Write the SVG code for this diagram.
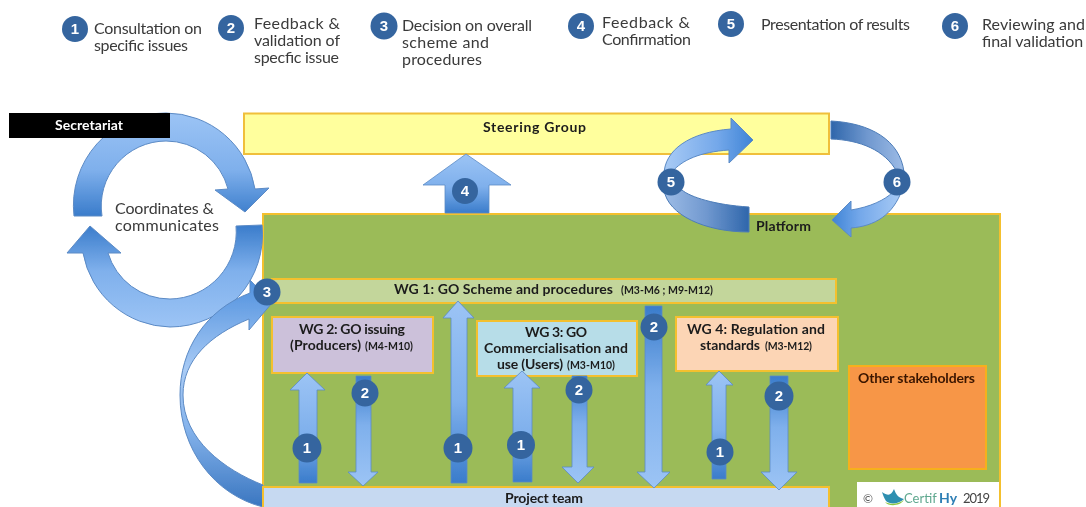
<svg xmlns="http://www.w3.org/2000/svg" width="1086" height="507" viewBox="0 0 1086 507">
<style>
text{font-family:"Lato","Liberation Sans",sans-serif;fill:#1c1c1c}
.lg{font-size:16px;fill:#3a3a3a}
.b{font-weight:700;font-size:14px}
.s{font-weight:700;font-size:10.500px}
.n{font-weight:700;font-size:15px;fill:#fff;text-anchor:middle;font-family:"Liberation Sans",sans-serif}
.c{fill:#34659f}
.box{stroke-width:2}
.au{fill:url(#up);stroke:#5b8ac5;stroke-width:.8}
.ad{fill:url(#dn);stroke:#5b8ac5;stroke-width:.8}
</style>
<defs>
<filter id="soft" x="-2%" y="-2%" width="104%" height="104%"><feGaussianBlur stdDeviation="0.45"/></filter>
<linearGradient id="up" x1="0" y1="0" x2="0" y2="1"><stop offset="0" stop-color="#9cc4f5"/><stop offset=".55" stop-color="#7fb0ec"/><stop offset="1" stop-color="#3a7ccb"/></linearGradient>
<linearGradient id="dn" x1="0" y1="1" x2="0" y2="0"><stop offset="0" stop-color="#9cc4f5"/><stop offset=".55" stop-color="#7fb0ec"/><stop offset="1" stop-color="#3a7ccb"/></linearGradient>
<linearGradient id="lr" x1="0" y1="0" x2="1" y2="0"><stop offset="0" stop-color="#a9cbf5"/><stop offset=".6" stop-color="#74a8ea"/><stop offset="1" stop-color="#3f84d6"/></linearGradient>
<linearGradient id="rl" x1="1" y1="0" x2="0" y2="0"><stop offset="0" stop-color="#a9cbf5"/><stop offset=".6" stop-color="#74a8ea"/><stop offset="1" stop-color="#3f84d6"/></linearGradient>
<linearGradient id="dk" x1="0" y1="0" x2="1" y2="0"><stop offset="0" stop-color="#9dbce6"/><stop offset=".5" stop-color="#7098cf"/><stop offset="1" stop-color="#2f66ab"/></linearGradient>
<linearGradient id="dk2" x1="1" y1="0" x2="0" y2="0"><stop offset="0" stop-color="#9dbce6"/><stop offset=".5" stop-color="#7098cf"/><stop offset="1" stop-color="#2f66ab"/></linearGradient>
<linearGradient id="three" x1="0" y1="1" x2="0" y2="0"><stop offset="0" stop-color="#3a76c0"/><stop offset=".35" stop-color="#86b4ec"/><stop offset=".6" stop-color="#a9cbf5"/><stop offset="1" stop-color="#4f90de"/></linearGradient>
</defs>
<g filter="url(#soft)">
<rect width="1086" height="507" fill="#fff"/>

<g id="legend">
<circle class="c" cx="75" cy="29" r="13"/><text class="n" x="75" y="34">1</text>
<text class="lg" x="94" y="34" textLength="108">Consultation on</text>
<text class="lg" x="94" y="51" textLength="94">specific issues</text>
<circle class="c" cx="231" cy="28" r="13"/><text class="n" x="231" y="33">2</text>
<text class="lg" x="254" y="29" textLength="86">Feedback &amp;</text>
<text class="lg" x="254" y="46" textLength="86">validation of</text>
<text class="lg" x="254" y="63" textLength="85">specfic issue</text>
<circle class="c" cx="384" cy="26" r="13.500"/><text class="n" x="384" y="31">3</text>
<text class="lg" x="402" y="31" textLength="130">Decision on overall</text>
<text class="lg" x="402" y="48" textLength="87">scheme and</text>
<text class="lg" x="402" y="65" textLength="80">procedures</text>
<circle class="c" cx="581" cy="26" r="13"/><text class="n" x="581" y="31">4</text>
<text class="lg" x="602" y="28" textLength="88">Feedback  &amp;</text>
<text class="lg" x="602" y="45" textLength="89">Confirmation</text>
<circle class="c" cx="731" cy="24" r="13"/><text class="n" x="731" y="29">5</text>
<text class="lg" x="761" y="30" textLength="149">Presentation of results</text>
<circle class="c" cx="955" cy="26" r="13"/><text class="n" x="955" y="31">6</text>
<text class="lg" x="982" y="30" textLength="103">Reviewing and</text>
<text class="lg" x="982" y="47" textLength="101">final validation</text>
</g>

<g id="steering"><rect class="box" x="244" y="113.500" width="585" height="40.500" fill="#ffff9d" stroke="#f0bf3a"/><text class="b" x="483" y="132" textLength="103">Steering Group</text></g>
<g id="platform"><rect class="box" x="263" y="214" width="737" height="300" fill="#9bbb59" stroke="#f4c02e"/><text class="b" x="756" y="231" textLength="55">Platform</text></g>

<g id="connectors">
<path d="M74,216A92.500,92.500 0 0 1 166,113A90.500,90.500 0 0 1 255,189L269,188L245,212L215,190L228,189A64,64 0 0 0 166,141A65,65 0 0 0 102,216Z" fill="url(#up)" stroke="#5b8ac5"/>
<path d="M262,225A92.500,92.500 0 0 1 170,327A90,90 0 0 1 83,253L67,253L90,226L121,253L108,253A64.500,64.500 0 0 0 170,299A67,67 0 0 0 236,226Z" fill="url(#dn)" stroke="#5b8ac5"/>
<path d="M250,293C205,310 180,350 180,395C180,450 215,495 263,507L263,485C225,470 183,440 183,395C183,360 210,335 249,319L249,330L272,303L250,280Z" fill="url(#three)" stroke="#5b8ac5"/>
<path class="au" d="M466,154L511,185H489V213H445V185H423Z"/>
<path d="M664,175C664,150 690,132 731,129L731,118L753,140L729,163L729,150C700,152 682,160 672,172Z" fill="url(#lr)" stroke="#5b8ac5"/>
<path d="M664,190C668,215 705,232 749,232L749,207C715,205 690,197 682,190Z" fill="url(#dk)" stroke="#4c7cb8"/>
<path d="M831,121C870,123 900,140 904,172L897,172C885,150 860,140 831,139Z" fill="url(#dk2)" stroke="#4c7cb8"/>
<path d="M902,190C893,215 875,226 851,228L851,237L832,220L851,201L851,210C870,207 885,200 893,192Z" fill="url(#rl)" stroke="#5b8ac5"/>
</g>

<g id="secretariat"><rect x="9" y="113" width="161" height="25" fill="#000"/><text class="b" x="55" y="130" textLength="68" style="fill:#fff">Secretariat</text></g>
<g id="coordinates"><text class="lg" x="115" y="214" textLength="99">Coordinates &amp;</text><text class="lg" x="115" y="231" textLength="104">communicates</text></g>

<g id="wg1"><rect class="box" x="272" y="279" width="564" height="24" fill="#c3d69b" stroke="#f4c02e"/><text class="b" x="394" y="294" textLength="219">WG 1: GO Scheme and procedures</text><text class="s" x="621" y="294" textLength="92">(M3-M6 ; M9-M12)</text></g>
<g id="wg2"><rect class="box" x="272" y="317" width="161" height="56" fill="#ccc1da" stroke="#f4c02e"/><text class="b" x="299" y="334" textLength="106">WG 2: GO issuing</text><text class="b" x="290" y="350" textLength="71">(Producers)</text><text class="s" x="365" y="350" textLength="48">(M4-M10)</text></g>
<g id="wg3"><rect class="box" x="477" y="321" width="160" height="55" fill="#b7dde8" stroke="#f4c02e"/><text class="b" x="525" y="337" textLength="62">WG 3: GO</text><text class="b" x="484" y="353" textLength="144">Commercialisation and</text><text class="b" x="497" y="369" textLength="66">use (Users)</text><text class="s" x="567" y="369" textLength="48">(M3-M10)</text></g>
<g id="wg4"><rect class="box" x="676" y="317" width="162" height="54" fill="#fcd5b5" stroke="#f4c02e"/><text class="b" x="687" y="334" textLength="138">WG 4:  Regulation and</text><text class="b" x="700" y="350" textLength="60">standards</text><text class="s" x="765" y="350" textLength="47">(M3-M12)</text></g>
<g id="other"><rect class="box" x="849" y="366" width="137" height="103" fill="#f79646" stroke="#f6b01c"/><text class="b" x="858" y="383" textLength="117" style="fill:#3a1500">Other stakeholders</text></g>
<g id="project"><rect class="box" x="263" y="487" width="566" height="24" fill="#c6d9f1" stroke="#f4c02e"/><text class="b" x="505" y="503" textLength="78">Project team</text></g>

<g id="arrows">
<path class="au" d="M307,373L325,390H317V483H299V390H290Z"/>
<path class="ad" d="M356,376H371V472H378L363,486L348,472H356Z"/>
<path class="au" d="M458,301L474,318H467V483H451V318H443Z"/>
<path class="au" d="M522,371L540,388H532V482H513V388H504Z"/>
<path class="ad" d="M572,376H587V467H594L578,483L562,467H572Z"/>
<path class="ad" d="M645,306H662V472H670L654,488L637,472H645Z"/>
<path class="au" d="M719,371L733,385H726V479H712V385H706Z"/>
<path class="ad" d="M770,376H788V472H797L779,490L761,472H770Z"/>
</g>

<g id="badges">
<circle class="c" cx="267" cy="292" r="13.500"/><text class="n" x="267" y="297">3</text>
<circle class="c" cx="465" cy="191" r="13"/><text class="n" x="465" y="196">4</text>
<circle class="c" cx="671" cy="182" r="13.500"/><text class="n" x="671" y="187">5</text>
<circle class="c" cx="897" cy="182" r="13.500"/><text class="n" x="897" y="187">6</text>
<circle class="c" cx="307" cy="448" r="14.500"/><text class="n" x="307" y="453">1</text>
<circle class="c" cx="365" cy="393" r="13.500"/><text class="n" x="365" y="398">2</text>
<circle class="c" cx="458" cy="448" r="14.500"/><text class="n" x="458" y="453">1</text>
<circle class="c" cx="521" cy="445" r="14"/><text class="n" x="521" y="450">1</text>
<circle class="c" cx="579" cy="390" r="13.500"/><text class="n" x="579" y="395">2</text>
<circle class="c" cx="654" cy="327" r="13.500"/><text class="n" x="654" y="332">2</text>
<circle class="c" cx="720" cy="452" r="13.500"/><text class="n" x="720" y="457">1</text>
<circle class="c" cx="779" cy="396" r="14.500"/><text class="n" x="779" y="401">2</text>
</g>

<g id="logo">
<rect x="857" y="482" width="142" height="25" fill="#fff"/>
<text x="863" y="503" font-size="12" style="fill:#555">©</text>
<path d="M882,492C888,496 891,496 894,489C896,495 899,498 904,499C899,504 890,505 886,501C884,498 883,495 882,492Z" fill="#2f8fb0"/>
<path d="M885,502C891,505 899,504 904,500C900,506 889,507 885,502Z" fill="#8dc63f"/>
<text x="904" y="503" font-size="13" style="fill:#5fa88f">Certif</text>
<text x="939" y="503" font-size="14" font-weight="700" style="fill:#2f7fb5">Hy</text>
<text x="963" y="503" font-size="13" textLength="27" style="fill:#444">2019</text>
</g>
</g>
</svg>
